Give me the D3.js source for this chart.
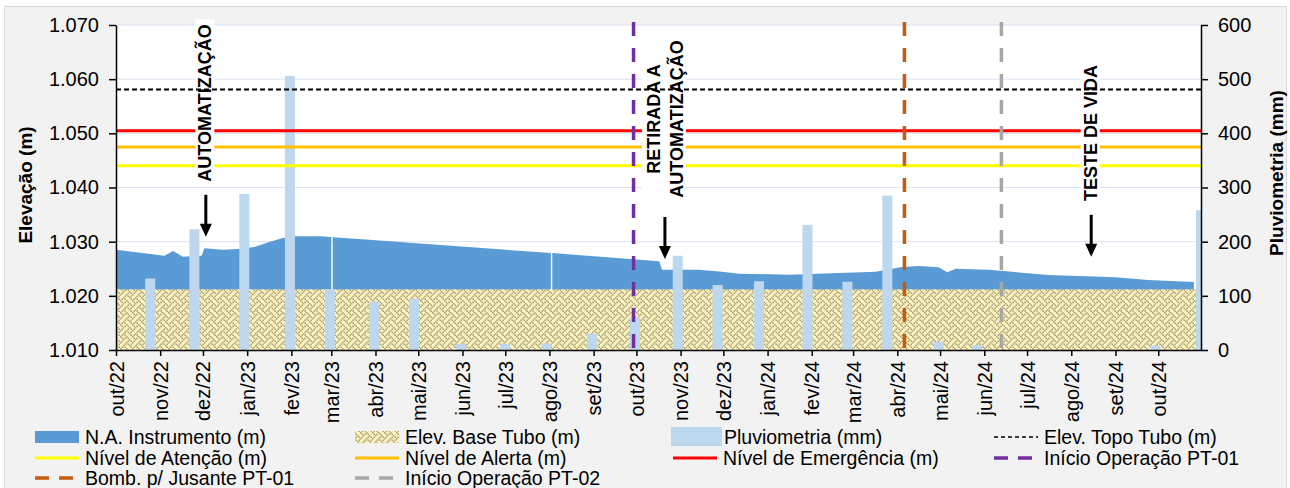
<!DOCTYPE html>
<html><head><meta charset="utf-8">
<script src="https://cdn.jsdelivr.net/npm/d3@7"></script>
<style>
body{margin:0;background:#fff;}
svg{display:block;font-family:"Liberation Sans",Arial,sans-serif;}
</style>
</head><body>
<svg id="c" width="1290" height="488"></svg>
<script>
// ---------------- DATA ----------------
const monthLabels = ["out/22","nov/22","dez/22","jan/23","fev/23","mar/23","abr/23","mai/23","jun/23","jul/23","ago/23","set/23",
  "out/23","nov/23","dez/23","jan/24","fev/24","mar/24","abr/24","mai/24","jun/24","jul/24","ago/24","set/24","out/24"];
const leftTicks = [1.010,1.020,1.030,1.040,1.050,1.060,1.070];
const rightTicks = [0,100,200,300,400,500,600];

// N.A. Instrumento (m) — null = data gap
const naDates = ["2022-10-01","2022-11-04","2022-11-10","2022-11-17","2022-11-23","2022-11-30","2022-12-02","2022-12-15",
  "2022-12-25","2023-01-06","2023-01-17","2023-01-26","2023-02-03","2023-02-21","2023-03-01","2023-03-01T18:00","2023-03-02",
  "2023-03-23","2023-04-25","2023-08-02","2023-08-02T18:00","2023-08-03","2023-10-17","2023-10-19","2023-11-14","2023-11-30",
  "2023-12-12","2024-01-16","2024-02-20","2024-03-17","2024-04-04","2024-04-16","2024-04-30","2024-05-06","2024-05-12",
  "2024-06-04","2024-07-16","2024-09-01","2024-09-24","2024-10-26"];
const naValues = [1.0285,1.0274,1.0283,1.0272,1.0273,1.0274,1.0288,1.0285,
  1.02865,1.0290,1.0300,1.0307,1.0310,1.0310,1.03088,null,1.0308,
  1.03044,1.0298,1.0279,null,1.0279,1.0264,1.0248,1.0248,1.02446,
  1.0241,1.0239,1.02422,1.02446,1.02533,1.0255,1.02527,1.02435,1.0250,
  1.0248,1.02385,1.02342,1.02293,1.02256];

// Pluviometria (mm)
const rainDates = ["2022-09-29","2022-10-25","2022-11-25","2022-12-30","2023-01-31","2023-02-28","2023-03-31","2023-04-28",
  "2023-05-31","2023-07-01","2023-07-30","2023-08-31","2023-09-30","2023-10-30","2023-11-27","2023-12-26","2024-01-29",
  "2024-02-26","2024-03-25","2024-04-30","2024-05-27","2024-06-30","2024-07-31","2024-08-31","2024-09-29","2024-10-31"];
const rainValues = [39,132,223,288,506,112,89,94,11,11,12,30,60,174,120,127,231,126,285,15,9,0,0,0,8,258];

// Reference levels (m)
const baseTubo = 1.0212;
const topoTubo = 1.0581;
const nivelAtencao = 1.0440;
const nivelAlerta = 1.0475;
const nivelEmergencia = 1.0505;

// Event lines
const eventNames = ["Início Operação PT-01","Bomb. p/ Jusante PT-01","Início Operação PT-02"];
const eventDates = ["2023-09-29","2024-04-06","2024-06-13"];
const eventColors = ["#7030a0","#c55a11","#a6a6a6"];

// Annotations (arrow tip date / elevation)
const annoLines = [["AUTOMATIZAÇÃO"],["RETIRADA A","AUTOMATIZAÇÃO"],["TESTE DE VIDA"]];
const annoDates = ["2022-12-03","2023-10-21","2024-08-15"];
const annoValues = [1.0309,1.0268,1.0272];

// ---------------- CHART ----------------
const svg = d3.select("#c");
const P = {l:116, r:1201, t:25, b:350};
const parse = d3.isoParse;
const x = d3.scaleUtc([parse("2022-10-01"), parse("2024-10-31")], [P.l, P.r]);
const yL = d3.scaleLinear([1.010,1.070],[P.b,P.t]);
const yR = d3.scaleLinear([0,600],[P.b,P.t]);
const FS = 20;

const defs = svg.append("defs");
// weave pattern
const weaveBits = ["10001000","01010100","00100010","01000101","10001000","00010101","00100010","01010001"];
const cell = 1.5;
const pat = defs.append("pattern").attr("id","weave").attr("patternUnits","userSpaceOnUse")
  .attr("width",8*cell).attr("height",8*cell);
pat.append("rect").attr("width",8*cell).attr("height",8*cell).attr("fill","#fbf2bf");
weaveBits.forEach((row,r)=>row.split("").forEach((b,c)=>{
  if(b==="1") pat.append("rect").attr("x",c*cell).attr("y",r*cell).attr("width",cell).attr("height",cell).attr("fill","#a99e73");
}));
defs.append("clipPath").attr("id","clip").append("rect")
  .attr("x",P.l).attr("y",P.t).attr("width",P.r-P.l).attr("height",P.b-P.t);

// backgrounds
svg.append("rect").attr("x",4.5).attr("y",6.5).attr("width",1282).attr("height",500)
  .attr("fill","#f2f2f2").attr("stroke","#d9d9d9");
svg.append("rect").attr("x",P.l).attr("y",P.t).attr("width",P.r-P.l).attr("height",P.b-P.t).attr("fill","#fff");

// gridlines
svg.append("g").selectAll("line").data(leftTicks).join("line")
  .attr("x1",P.l).attr("x2",P.r).attr("y1",d=>yL(d)).attr("y2",d=>yL(d))
  .attr("stroke","#dae3f3").attr("stroke-width",1);

const plot = svg.append("g").attr("clip-path","url(#clip)");

// N.A. area
const na = naDates.map((d,i)=>({d:parse(d), v:naValues[i]}));
plot.append("path").datum(na)
  .attr("d", d3.area().defined(d=>d.v!=null).x(d=>x(d.d)).y0(yL(1.010)).y1(d=>yL(d.v)))
  .attr("fill","#5b9bd5");

// base tubo hatch
plot.append("rect").attr("x",x.range()[0]).attr("width",x.range()[1]-x.range()[0])
  .attr("y",yL(baseTubo)).attr("height",yL(1.010)-yL(baseTubo)).attr("fill","url(#weave)");

// rain bars
const barW = 10;
plot.append("g").selectAll("rect").data(rainDates.map((d,i)=>({d:parse(d),v:rainValues[i]}))).join("rect")
  .attr("x",d=>x(d.d)-barW/2).attr("width",barW)
  .attr("y",d=>yR(d.v)).attr("height",d=>yR(0)-yR(d.v)).attr("fill","#bdd7ee");

// horizontal level lines
const levels = [
  {v:nivelAtencao, c:"#ffff00", w:3},
  {v:nivelAlerta, c:"#ffc000", w:3},
  {v:nivelEmergencia, c:"#ff0000", w:3},
];
plot.append("g").selectAll("line").data(levels).join("line")
  .attr("x1",P.l).attr("x2",P.r).attr("y1",d=>yL(d.v)).attr("y2",d=>yL(d.v))
  .attr("stroke",d=>d.c).attr("stroke-width",d=>d.w);

// annotations (white boxes + text + arrows)
const ag = svg.append("g");
const annoCY = [103,119,133];
annoLines.forEach((lines,i)=>{
  const ax = x(parse(annoDates[i]));
  const tipY = yL(annoValues[i]);
  const topY = tipY - 42;
  const n = lines.length;
  const lineH = 23;
  const fs = 18;
  const cx = ax - (n===2 ? 0 : 1);
  const cy = annoCY[i];
  const g = ag.append("g");
  const txt = g.append("text").attr("font-size",fs).attr("font-weight","bold").attr("fill","#000")
    .attr("text-anchor","middle")
    .attr("transform",`translate(${cx},${cy}) rotate(-90)`);
  lines.forEach((t,j)=>{
    txt.append("tspan").attr("x",0).attr("y",(j-(n-1)/2)*lineH).attr("dy","0.35em").text(t);
  });
  const bb = txt.node().getBBox();
  const maxLen = bb.width;
  g.insert("rect","text").attr("x",cx-(n*lineH)/2+(n===2?0:2)).attr("y",cy-maxLen/2-5)
    .attr("width",n*lineH-(n===2?2:4)).attr("height",maxLen+10).attr("fill","#fff");
  g.append("line").attr("x1",ax).attr("x2",ax).attr("y1",topY).attr("y2",tipY-10)
    .attr("stroke","#000").attr("stroke-width",3);
  g.append("path").attr("d",`M${ax-6},${tipY-13} L${ax+6},${tipY-13} L${ax},${tipY} Z`).attr("fill","#000");
});

// top-of-tube dashed line
svg.append("line").attr("x1",P.l).attr("x2",P.r).attr("y1",yL(topoTubo)).attr("y2",yL(topoTubo))
  .attr("stroke","#000").attr("stroke-width",2).attr("stroke-dasharray","5,3");

// event vertical lines
svg.append("g").selectAll("line").data(eventDates).join("line")
  .attr("x1",d=>x(parse(d))).attr("x2",d=>x(parse(d))).attr("y1",P.t-3).attr("y2",P.b)
  .attr("stroke",(d,i)=>eventColors[i]).attr("stroke-width",3.5).attr("stroke-dasharray","14,12");

// axes
function styleAxis(g){
  g.selectAll("path.domain").attr("stroke","#000").attr("stroke-width",1.5);
  g.selectAll(".tick line").attr("stroke","#000").attr("stroke-width",1.5);
  g.selectAll("text").attr("fill","#000").attr("font-size",FS).attr("font-family","Liberation Sans, Arial, sans-serif");
}
const gl = svg.append("g").attr("transform",`translate(${P.l},0)`)
  .call(d3.axisLeft(yL).tickValues(leftTicks).tickFormat(d3.format(".3f")).tickSize(7).tickSizeOuter(0).tickPadding(10));
styleAxis(gl);
const gr = svg.append("g").attr("transform",`translate(${P.r},0)`)
  .call(d3.axisRight(yR).tickValues(rightTicks).tickSize(7).tickSizeOuter(0).tickPadding(10));
styleAxis(gr);
const monthDates = d3.utcMonth.range(parse("2022-10-01"), parse("2024-10-02"));
const gb = svg.append("g").attr("transform",`translate(0,${P.b})`)
  .call(d3.axisBottom(x).tickValues(monthDates).tickFormat((d,i)=>monthLabels[i]).tickSize(6).tickSizeOuter(0));
styleAxis(gb);
gb.selectAll("text").attr("transform","rotate(-90)").attr("text-anchor","end")
  .attr("x",-11).attr("y",0).attr("dy","0.35em");

// axis titles
svg.append("text").attr("transform","translate(25,185) rotate(-90)").attr("text-anchor","middle")
  .attr("dy","0.35em").attr("font-size",19).attr("font-weight","bold").text("Elevação (m)");
svg.append("text").attr("transform","translate(1276,173) rotate(-90)").attr("text-anchor","middle")
  .attr("dy","0.35em").attr("font-size",19).attr("font-weight","bold").text("Pluviometria (mm)");

// legend
const legendItems = [
  {t:"N.A. Instrumento (m)", type:"rect", fill:"#5b9bd5", col:0,row:0},
  {t:"Elev. Base Tubo (m)", type:"rect", fill:"url(#weave)", col:1,row:0},
  {t:"Pluviometria (mm)", type:"bigrect", fill:"#bdd7ee", col:2,row:0},
  {t:"Elev. Topo Tubo (m)", type:"line", c:"#000", w:1.5, dash:"4,3", col:3,row:0},
  {t:"Nível de Atenção (m)", type:"line", c:"#ffff00", w:3, col:0,row:1},
  {t:"Nível de Alerta (m)", type:"line", c:"#ffc000", w:3, col:1,row:1},
  {t:"Nível de Emergência (m)", type:"line", c:"#ff0000", w:3, col:2,row:1},
  {t:"Início Operação PT-01", type:"line", c:"#7030a0", w:3.5, dash:"14,10", col:3,row:1},
  {t:"Bomb. p/ Jusante PT-01", type:"line", c:"#c55a11", w:3.5, dash:"14,10", col:0,row:2},
  {t:"Início Operação PT-02", type:"line", c:"#a6a6a6", w:3.5, dash:"14,10", col:1,row:2},
];
const colX = [35,355,673,994];
const rowY = [437,458,478];
const lg = svg.append("g");
legendItems.forEach(it=>{
  const x0 = colX[it.col], yc = rowY[it.row];
  if(it.type==="rect") lg.append("rect").attr("x",x0).attr("y",yc-6).attr("width",44).attr("height",12).attr("fill",it.fill);
  else if(it.type==="bigrect") lg.append("rect").attr("x",x0-2).attr("y",yc-10).attr("width",51).attr("height",19).attr("fill",it.fill);
  else lg.append("line").attr("x1",x0).attr("x2",x0+44).attr("y1",yc).attr("y2",yc)
    .attr("stroke",it.c).attr("stroke-width",it.w).attr("stroke-dasharray",it.dash||null);
  lg.append("text").attr("x",x0+(it.type==="bigrect"?51:50)).attr("y",yc).attr("dy","0.35em")
    .attr("font-size",19.5).attr("fill","#000").text(it.t);
});
</script>
</body></html>
